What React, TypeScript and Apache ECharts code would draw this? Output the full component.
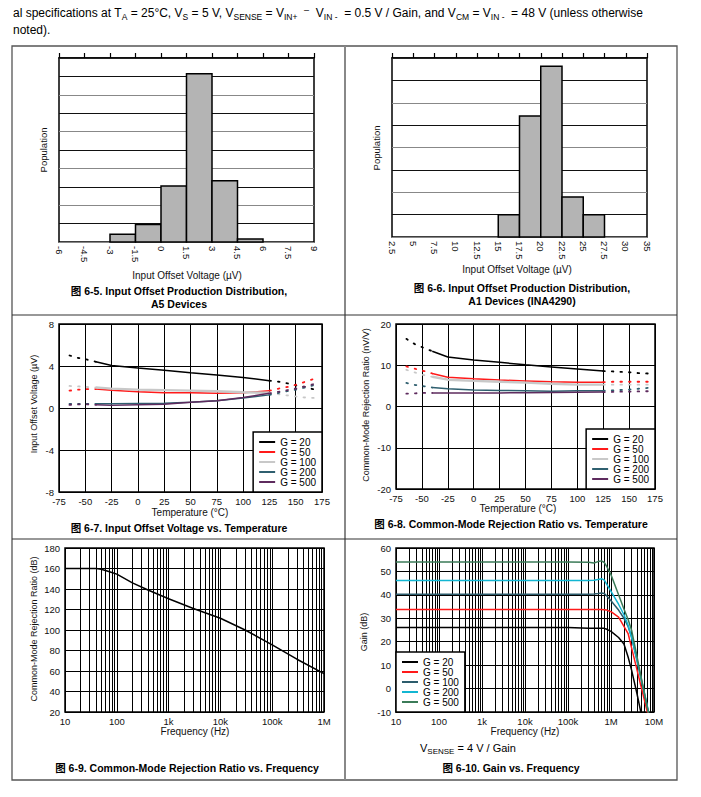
import React, { useEffect, useRef } from 'react';
import * as echarts from 'echarts';

const FONT = '"Liberation Sans", Arial, "Noto Sans CJK SC", sans-serif';

// ---- Fig 6-5 histogram (A5 devices) ----
const hist1Edges = [-6, -4.5, -3, -1.5, 0, 1.5, 3, 4.5, 6, 7.5, 9];
const hist1Pop = [0, 0, 0.42, 0.95, 3.05, 9.15, 3.33, 0.16, 0, 0];

// ---- Fig 6-6 histogram (A1 devices), labels equally spaced as printed ----
const hist2TickLabels = ['2.5', '5', '7.5', '10', '12.5', '15', '17.5', '20', '22.5', '25', '27.5', '30', '35'];
const hist2Pop = [0, 0, 0, 0, 0, 1.0, 5.41, 7.63, 1.79, 1.0, 0, 0];

// ---- shared legend names ----
const gainNames = ['G = 20', 'G = 50', 'G = 100', 'G = 200', 'G = 500'];
const tempColors = ['#000000', '#ff1a1a', '#c8c8c8', '#2f5f6f', '#5e2b5e'];
const tempWidths = [1.5, 1.5, 2.4, 1.5, 1.5];
const freqColors = ['#000000', '#ff1a1a', '#2c5c6c', '#12b6d2', '#3b7b58'];

// ---- temperature axes ----
const tempMain = [-40, -25, 0, 25, 50, 75, 100, 125];
const tempCold = [-65, -56, -48, -40];
const tempHot = [125, 134, 142, 150, 159, 168];

// ---- Fig 6-7 input offset voltage (uV) ----
const vosMain = [
  [4.4, 4.05, 3.8, 3.6, 3.35, 3.15, 2.9, 2.6],
  [1.8, 1.7, 1.55, 1.45, 1.45, 1.4, 1.45, 1.65],
  [1.95, 1.85, 1.75, 1.7, 1.65, 1.6, 1.5, 1.45],
  [0.4, 0.4, 0.42, 0.45, 0.55, 0.7, 0.95, 1.25],
  [0.3, 0.25, 0.3, 0.35, 0.55, 0.7, 1.0, 1.4],
];
const vosCold = [
  [5.0, 4.75, 4.6, 4.4],
  [1.65, 1.75, 1.8, 1.8],
  [2.1, 2.05, 2.0, 1.95],
  [0.4, 0.4, 0.4, 0.4],
  [0.3, 0.35, 0.35, 0.3],
];
const vosHot = [
  [2.6, 2.5, 2.35, 2.15, 2.0, 1.75],
  [1.65, 1.85, 2.0, 2.2, 2.5, 2.8],
  [1.45, 1.3, 1.2, 1.1, 1.0, 0.95],
  [1.25, 1.45, 1.6, 1.75, 1.95, 2.2],
  [1.4, 1.55, 1.7, 1.85, 2.05, 2.3],
];

// ---- Fig 6-8 CMRR vs temperature (nV/V) ----
const cmMain = [
  [13.4, 12.0, 11.3, 10.7, 10.1, 9.6, 9.1, 8.6],
  [8.0, 7.1, 6.7, 6.4, 6.2, 6.0, 5.9, 5.9],
  [7.2, 6.5, 6.2, 6.0, 5.8, 5.5, 5.3, 5.3],
  [4.6, 4.3, 4.0, 3.9, 3.8, 3.7, 3.8, 3.8],
  [3.3, 3.3, 3.3, 3.3, 3.35, 3.4, 3.45, 3.5],
];
const cmCold = [
  [16.4, 15.0, 14.2, 13.4],
  [9.7, 9.1, 8.6, 8.0],
  [8.9, 8.2, 7.6, 7.2],
  [5.7, 5.2, 4.9, 4.6],
  [3.1, 3.2, 3.3, 3.3],
];
const cmHot = [
  [8.6, 8.5, 8.4, 8.3, 8.1, 8.0],
  [5.9, 6.0, 6.0, 6.0, 6.0, 6.0],
  [5.3, 5.3, 5.3, 5.3, 5.3, 5.3],
  [3.8, 3.9, 4.0, 4.1, 4.3, 4.5],
  [3.5, 3.55, 3.6, 3.6, 3.65, 3.7],
];

// ---- Fig 6-9 CMRR vs frequency ----
const cmrrFreq = [10, 20, 40, 50, 70, 100, 200, 400, 1000, 3000, 10000, 30000, 100000, 300000, 1000000];
const cmrrDb = [160, 160, 160, 159.3, 157, 154.5, 146, 139, 130.5, 121, 111.5, 100, 85.5, 71.5, 57.5];

// ---- Fig 6-10 gain vs frequency ----
const gainFreq = [10, 1e5, 3e5, 4e5, 5e5, 6e5, 7e5, 8e5, 1e6, 1.5e6, 2e6, 2.5e6, 3e6, 4e6, 5e6, 6e6, 7e6, 7.5e6];
const gainDb = [
  [26.1, 26.1, 25.8, 25.8, 25.8, 25.8, 25.7, 25.3, 24.4, 21.8, 19, 13.5, 8, -2, -10.5, -16, -20, -22],
  [33.7, 33.7, 33.7, 33.7, 33.7, 33.7, 33.6, 33.5, 32.8, 30.5, 26.5, 23.5, 17.5, 8.2, 0.9, -5, -10, -12],
  [40.3, 40.3, 40.3, 40.4, 40.6, 40.8, 40.6, 39.5, 37.5, 33.5, 30, 26.5, 22, 12, 4, -2.5, -8, -10.5],
  [46.1, 46.1, 46.1, 46.2, 46.6, 46.9, 46.3, 44.5, 41.5, 36, 31.5, 27, 22, 12.5, 4.5, -2, -7.5, -10],
  [54, 54, 53.9, 53.6, 54.2, 54.5, 53.8, 52, 48.6, 40, 34, 29.5, 25, 14, 5, -2, -8, -10.5],
];

const freqTickLabels = ['10', '100', '1k', '10k', '100k', '1M', '10M'];
const minorMant = [2, 3, 4, 5, 6, 7, 8, 9];

const axisLabelBase = { fontFamily: FONT, fontSize: 9.5, lineHeight: 10, color: '#111' };

function minorLines(decades: number[]) {
  const out: any[] = [];
  decades.forEach((d) => minorMant.forEach((m) => out.push({ xAxis: d * m })));
  return out;
}

function histSeries(name: string, bins: number[][], xi: number, yi: number) {
  return {
    type: 'custom',
    name,
    xAxisIndex: xi,
    yAxisIndex: yi,
    silent: true,
    encode: { x: [0, 1], y: 2 },
    data: bins,
    renderItem: (_p: any, api: any) => {
      const p0 = api.coord([api.value(0), 0]);
      const p1 = api.coord([api.value(1), api.value(2)]);
      return {
        type: 'rect',
        shape: { x: p0[0], y: p1[1], width: p1[0] - p0[0], height: p0[1] - p1[1] },
        style: { fill: '#b4b4b4', stroke: '#000', lineWidth: 1.5 },
      };
    },
  };
}

function lineSeries(name: string, xs: number[], ys: number[], color: string, width: number, xi: number, yi: number, dotted: boolean) {
  return {
    type: 'line',
    name,
    xAxisIndex: xi,
    yAxisIndex: yi,
    data: xs.map((x, i) => [x, ys[i]]),
    symbol: 'none',
    showSymbol: false,
    silent: true,
    color,
    z: 3,
    lineStyle: { color, width: dotted ? 1.8 : width, type: dotted ? [1.6, 7] : 'solid', cap: dotted ? 'round' : 'butt' },
  };
}

function legend(prefix: string, colorsPos: any) {
  return {
    data: gainNames.map((n) => `${prefix}|${n}`),
    formatter: (n: string) => n.split('|')[1],
    orient: 'vertical',
    ...colorsPos,
    backgroundColor: '#fff',
    borderColor: '#000',
    borderWidth: 1.5,
    borderRadius: 0,
    padding: [5, 6, 5, 6],
    itemGap: 0,
    itemWidth: 16,
    itemHeight: 2,
    icon: 'rect',
    selectedMode: false,
    textStyle: { fontFamily: FONT, fontSize: 10, lineHeight: 9.6, color: '#000' },
  };
}

function buildOption() {
  const hist1Bins: number[][] = [];
  hist1Pop.forEach((p, i) => { if (p > 0) hist1Bins.push([hist1Edges[i], hist1Edges[i + 1], p]); });
  const hist2Bins: number[][] = [];
  hist2Pop.forEach((p, i) => { if (p > 0) hist2Bins.push([i, i + 1, p]); });

  const series: any[] = [histSeries('h1', hist1Bins, 0, 0), histSeries('h2', hist2Bins, 2, 1)];

  gainNames.forEach((n, k) => {
    series.push(lineSeries(`c3|${n}`, tempMain, vosMain[k], tempColors[k], tempWidths[k], 4, 2, false));
    series.push(lineSeries(`c3|${n}|cold`, tempCold, vosCold[k], tempColors[k], tempWidths[k], 4, 2, true));
    series.push(lineSeries(`c3|${n}|hot`, tempHot, vosHot[k], tempColors[k], tempWidths[k], 4, 2, true));
    series.push(lineSeries(`c4|${n}`, tempMain, cmMain[k], tempColors[k], tempWidths[k], 5, 3, false));
    series.push(lineSeries(`c4|${n}|cold`, tempCold, cmCold[k], tempColors[k], tempWidths[k], 5, 3, true));
    series.push(lineSeries(`c4|${n}|hot`, tempHot, cmHot[k], tempColors[k], tempWidths[k], 5, 3, true));
  });

  const markBase = { silent: true, symbol: 'none', z: 1, label: { show: false }, lineStyle: { color: '#000', width: 1, type: 'solid' }, animation: false };
  series.push({ type: 'line', name: 'g5', xAxisIndex: 6, yAxisIndex: 4, data: [], z: 1, markLine: { ...markBase, data: minorLines([10, 100, 1000, 10000, 100000]) } });
  series.push(lineSeries('cmrr', cmrrFreq, cmrrDb, '#000', 1.5, 6, 4, false));
  series.push({ type: 'line', name: 'g6', xAxisIndex: 7, yAxisIndex: 5, data: [], z: 1, markLine: { ...markBase, data: minorLines([10, 100, 1000, 10000, 100000, 1000000]) } });
  gainNames.forEach((n, k) => {
    series.push(lineSeries(`c6|${n}`, gainFreq, gainDb[k], freqColors[k], 1.5, 7, 5, false));
  });

  const gridBase = { show: true, borderColor: '#000', borderWidth: 1.5, backgroundColor: 'transparent' };
  const split = { show: true, lineStyle: { color: '#000', width: 1 } };
  const noTick = { show: false };
  const noLine = { show: false };

  const histBottom = (gi: number, min: number, max: number, interval: number, fmt?: any) => ({
    type: 'value', gridIndex: gi, min, max, interval, position: 'bottom',
    axisLine: noLine, axisTick: noTick, splitLine: { show: false },
    axisLabel: { ...axisLabelBase, rotate: -90, margin: 4, formatter: fmt },
  });
  const histTop = (gi: number, min: number, max: number, interval: number) => ({
    type: 'value', gridIndex: gi, min, max, interval, position: 'top',
    axisLine: { show: true, lineStyle: { color: '#000', width: 1.5 } },
    axisTick: { show: true, inside: false, length: 5, lineStyle: { color: '#000', width: 1.2 } },
    axisLabel: { show: false }, splitLine: { show: false },
  });
  const tempX = (gi: number) => ({
    type: 'value', gridIndex: gi, min: -75, max: 175, interval: 25,
    axisLine: noLine, axisTick: noTick, splitLine: split,
    axisLabel: { ...axisLabelBase, margin: 4 },
  });
  const freqX = (gi: number, max: number) => ({
    type: 'log', logBase: 10, gridIndex: gi, min: 10, max,
    axisLine: noLine, axisTick: noTick, splitLine: split,
    axisLabel: { ...axisLabelBase, margin: 4, formatter: (v: number) => freqTickLabels[Math.round(Math.log10(v)) - 1] },
  });
  const valY = (gi: number, min: number, max: number, interval: number, labels: boolean, splitColor: any) => ({
    type: 'value', gridIndex: gi, min, max, interval,
    axisLine: noLine, axisTick: noTick,
    splitLine: { show: true, lineStyle: { color: splitColor, width: 1 } },
    axisLabel: labels ? { ...axisLabelBase, margin: 5 } : { show: false },
  });

  const txt = (x: number, y: number, text: string, size: number, opts: any = {}) => ({
    type: 'text', x, y, rotation: opts.rot || 0, silent: true,
    style: {
      text, fontFamily: FONT, fontSize: size, fontWeight: opts.bold ? 'bold' : 'normal',
      fill: opts.fill || '#111', align: opts.align || 'center', verticalAlign: 'middle', lineHeight: opts.lh || size,
    },
  });

  const hdrRich = {
    n: { fontSize: 12, lineHeight: 16, fontFamily: FONT, fill: '#000' },
    s: { fontSize: 8.5, lineHeight: 9, verticalAlign: 'bottom', fontFamily: FONT, fill: '#000' },
    m: { fontSize: 9, lineHeight: 12, verticalAlign: 'top', fontFamily: FONT, fill: '#000' },
  };
  const header1 = '{n|al specifications at T}{s|A}{n| = 25°C, V}{s|S}{n| = 5 V, V}{s|SENSE}{n| = V}{s|IN+}{n|  }{m|–}{n|  V}{s|IN -}{n|  = 0.5 V / Gain, and V}{s|CM}{n| = V}{s|IN -}{n|  = 48 V (unless otherwise}';
  const vsRich = {
    n: { fontSize: 11, lineHeight: 15, fontFamily: FONT, fill: '#000' },
    s: { fontSize: 8, lineHeight: 8, verticalAlign: 'bottom', fontFamily: FONT, fill: '#000' },
  };

  const graphic: any[] = [
    { type: 'text', x: 13, y: 5, silent: true, style: { text: header1, rich: hdrRich, verticalAlign: 'top' } },
    { type: 'text', x: 13, y: 22, silent: true, style: { text: '{n|noted).}', rich: hdrRich, verticalAlign: 'top' } },
    { type: 'rect', silent: true, shape: { x: 12, y: 46, width: 665, height: 734 }, style: { fill: 'none', stroke: '#555', lineWidth: 1.3 } },
    { type: 'line', silent: true, shape: { x1: 345, y1: 46, x2: 345, y2: 780 }, style: { stroke: '#888', lineWidth: 2 } },
    { type: 'line', silent: true, shape: { x1: 12, y1: 315, x2: 677, y2: 315 }, style: { stroke: '#333', lineWidth: 1.2 } },
    { type: 'line', silent: true, shape: { x1: 12, y1: 539, x2: 677, y2: 539 }, style: { stroke: '#333', lineWidth: 1.2 } },
    // y titles
    txt(43, 150, 'Population', 9.5, { rot: Math.PI / 2 }),
    txt(376, 148, 'Population', 9.5, { rot: Math.PI / 2 }),
    txt(34, 404, 'Input Offset Voltage (µV)', 9, { rot: Math.PI / 2 }),
    txt(366, 405, 'Common-Mode Rejection Ratio (nV/V)', 9, { rot: Math.PI / 2 }),
    txt(34, 629, 'Common-Mode Rejection Ratio (dB)', 9, { rot: Math.PI / 2 }),
    txt(364, 632, 'Gain (dB)', 9, { rot: Math.PI / 2 }),
    // x titles
    txt(187, 275, 'Input Offset Voltage (µV)', 10),
    txt(517, 269, 'Input Offset Voltage (µV)', 10),
    txt(190, 512, 'Temperature (°C)', 10),
    txt(518, 508.5, 'Temperature (°C)', 10),
    txt(195, 731.5, 'Frequency (Hz)', 10),
    txt(525, 731.5, 'Frequency (Hz)', 10),
    // captions
    txt(179, 297.5, '图 6-5. Input Offset Production Distribution,\nA5 Devices', 10.5, { bold: true, lh: 13, fill: '#000' }),
    txt(522, 294.5, '图 6-6. Input Offset Production Distribution,\nA1 Devices (INA4290)', 10.5, { bold: true, lh: 13, fill: '#000' }),
    txt(179, 528, '图 6-7. Input Offset Voltage vs. Temperature', 10.5, { bold: true, fill: '#000' }),
    txt(511, 524, '图 6-8. Common-Mode Rejection Ratio vs. Temperature', 10.5, { bold: true, fill: '#000' }),
    txt(187, 768, '图 6-9. Common-Mode Rejection Ratio vs. Frequency', 10.5, { bold: true, fill: '#000' }),
    txt(511, 768, '图 6-10. Gain vs. Frequency', 10.5, { bold: true, fill: '#000' }),
    { type: 'text', x: 420, y: 740, silent: true, style: { text: '{n|V}{s|SENSE}{n| = 4 V / Gain}', rich: vsRich, verticalAlign: 'top' } },
  ];

  return {
    animation: false,
    backgroundColor: '#fff',
    textStyle: { fontFamily: FONT },
    grid: [
      { ...gridBase, left: 59, top: 58, width: 255, height: 184 },
      { ...gridBase, left: 392, top: 58, width: 255, height: 179 },
      { ...gridBase, left: 59, top: 324, width: 263, height: 168 },
      { ...gridBase, left: 396, top: 324, width: 259, height: 165 },
      { ...gridBase, left: 65, top: 548, width: 259, height: 164 },
      { ...gridBase, left: 396, top: 548, width: 258, height: 164 },
    ],
    xAxis: [
      histBottom(0, -6, 9, 1.5),
      histTop(0, -6, 9, 1.5),
      histBottom(1, 0, 12, 1, (v: number) => hist2TickLabels[Math.round(v)]),
      histTop(1, 0, 12, 1),
      tempX(2),
      tempX(3),
      freqX(4, 1e6),
      freqX(5, 1e7),
    ],
    yAxis: [
      valY(0, 0, 10, 1, false, ['#888', '#111']),
      valY(1, 0, 8, 1, false, ['#888', '#111']),
      valY(2, -8, 8, 4, true, '#000'),
      valY(3, -20, 20, 10, true, '#000'),
      valY(4, 20, 180, 20, true, '#000'),
      valY(5, -10, 60, 10, true, '#000'),
    ],
    legend: [
      legend('c3', { right: 701 - 322, bottom: 797 - 492 }),
      legend('c4', { right: 701 - 655, bottom: 797 - 489 }),
      legend('c6', { left: 396, bottom: 797 - 712 }),
    ],
    series,
    graphic,
  };
}

export default function App() {
  const ref = useRef<HTMLDivElement>(null);
  useEffect(() => {
    const chart = echarts.init(ref.current as HTMLDivElement, null, { renderer: 'svg' });
    chart.setOption(buildOption() as any);
    return () => chart.dispose();
  }, []);
  return <div ref={ref} style={{ position: 'absolute', left: 0, top: 0, width: 701, height: 797, background: '#fff' }} />;
}
